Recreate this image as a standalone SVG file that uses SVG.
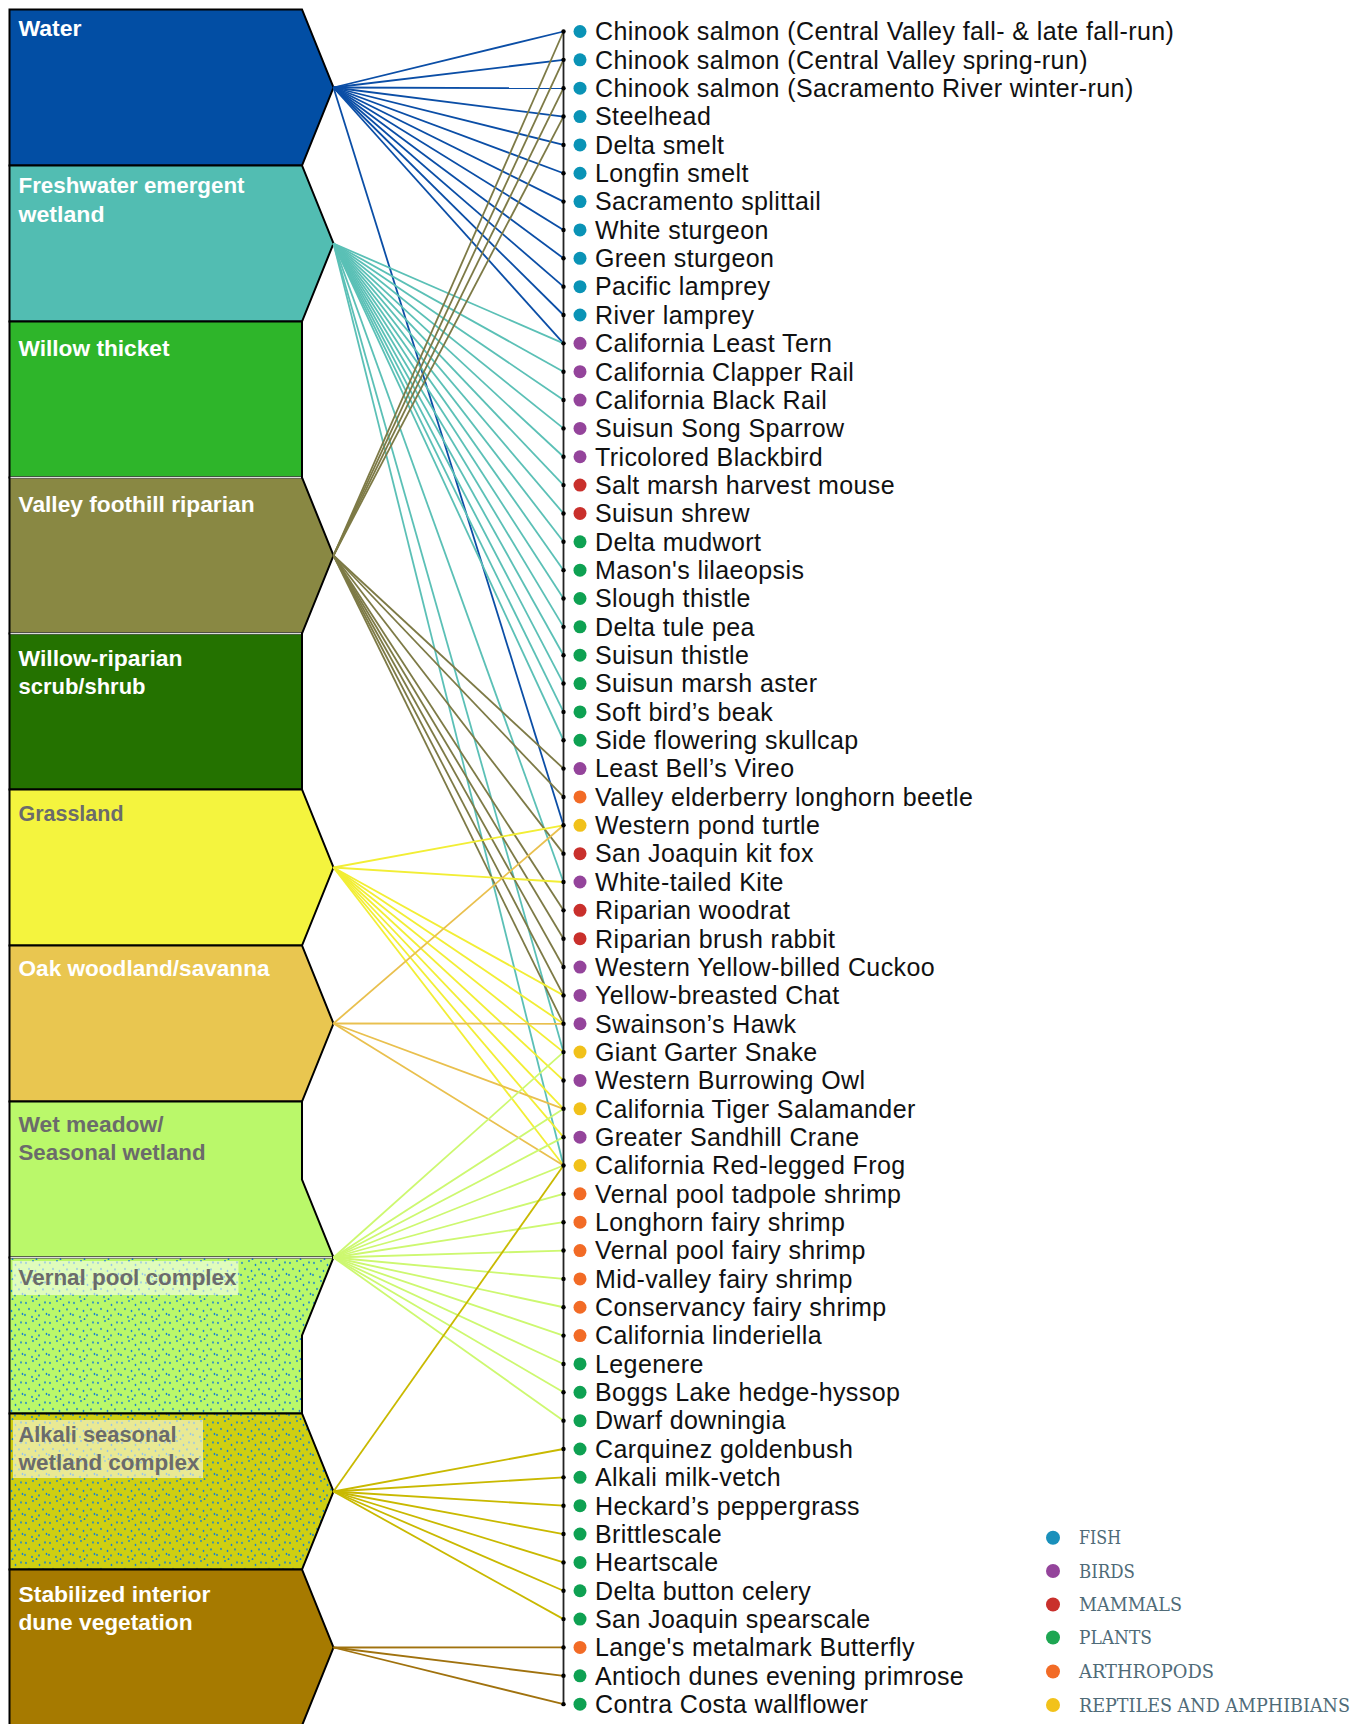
<svg xmlns="http://www.w3.org/2000/svg" width="1367" height="1724" viewBox="0 0 1367 1724">
<defs>
<style>
.hab{stroke:#000;stroke-width:2;stroke-linejoin:miter}
.lbl{font-family:"Liberation Sans",Arial,sans-serif;font-weight:bold;font-size:22.5px;fill:#fff}
.lblg{fill:#6b6b6b}
.sp{font-family:"Liberation Sans",Arial,sans-serif;font-size:25px;letter-spacing:0.4px;fill:#111}
.leg{font-family:"DejaVu Serif",serif;font-size:18px;fill:#4f6b78}
.c line{stroke-width:1.8;fill:none}
.w line{stroke:#0b4ea6}
.fw line{stroke:#5bc0b6}
.vf line{stroke:#7d7a46}
.gr line{stroke:#f2ee35}
.ok line{stroke:#e9c04e}
.wm line{stroke:#cdf870}
.ak line{stroke:#c9b900}
.sd line{stroke:#a0720e}
.fish{fill:#0a93b6}.bird{fill:#94449b}.mam{fill:#c9302c}.plant{fill:#0ea152}.arth{fill:#f26b26}.rep{fill:#f1c11a}
.tick{fill:#000}
</style>
<pattern id="speckle" width="24" height="20" patternUnits="userSpaceOnUse">
<g fill="#1b82cc">
<ellipse cx="2" cy="3" rx="0.85" ry="1.15"/><ellipse cx="9" cy="1" rx="0.85" ry="1.15"/><ellipse cx="15.5" cy="5" rx="0.85" ry="1.15"/><ellipse cx="21" cy="2.5" rx="0.85" ry="1.15"/>
<ellipse cx="5" cy="9" rx="0.85" ry="1.15"/><ellipse cx="11.5" cy="11" rx="0.85" ry="1.15"/><ellipse cx="19" cy="9.5" rx="0.85" ry="1.15"/><ellipse cx="1" cy="15" rx="0.85" ry="1.15"/>
<ellipse cx="8" cy="17" rx="0.85" ry="1.15"/><ellipse cx="15" cy="15.5" rx="0.85" ry="1.15"/><ellipse cx="22.5" cy="14" rx="0.85" ry="1.15"/><ellipse cx="12.5" cy="19.2" rx="0.85" ry="1.15"/>
</g>
</pattern>
</defs>
<rect width="1367" height="1724" fill="#fff"/>

<g id="habitats">
<g id="h-water"><path class="hab" d="M9.5,9.5 H302 L333.5,87.5 L302,165.5 H9.5 Z" fill="#024ea4"/><text class="lbl" x="18.5" y="35.7" textLength="63" lengthAdjust="spacingAndGlyphs">Water</text></g>
<g id="h-freshwater"><path class="hab" d="M9.5,165.5 H302 L333.5,243.5 L302,321.5 H9.5 Z" fill="#52bdb2"/><text class="lbl" x="18.5" y="193.3" textLength="226" lengthAdjust="spacingAndGlyphs">Freshwater emergent</text><text class="lbl" x="18.5" y="221.7" textLength="86" lengthAdjust="spacingAndGlyphs">wetland</text></g>
<g id="h-willow"><path class="hab" d="M9.5,321.5 H302 V477.5 H9.5 Z" fill="#2eb52a"/><text class="lbl" x="18.5" y="356" textLength="151" lengthAdjust="spacingAndGlyphs">Willow thicket</text></g>
<g id="h-valley"><path class="hab" d="M9.5,477.5 H302 L333.5,555.5 L302,633.5 H9.5 Z" fill="#898843"/><text class="lbl" x="18.5" y="511.7" textLength="236" lengthAdjust="spacingAndGlyphs">Valley foothill riparian</text></g>
<g id="h-willowrip"><path class="hab" d="M9.5,633.5 H302 V789.5 H9.5 Z" fill="#247200"/><text class="lbl" x="18.5" y="665.7" textLength="164" lengthAdjust="spacingAndGlyphs">Willow-riparian</text><text class="lbl" x="18.5" y="694" textLength="127" lengthAdjust="spacingAndGlyphs">scrub/shrub</text></g>
<g id="h-grass"><path class="hab" d="M9.5,789.5 H302 L333.5,867.5 L302,945.5 H9.5 Z" fill="#f4f43e"/><text class="lbl lblg" x="18.5" y="821" textLength="105" lengthAdjust="spacingAndGlyphs">Grassland</text></g>
<g id="h-oak"><path class="hab" d="M9.5,945.5 H302 L333.5,1023.5 L302,1101.5 H9.5 Z" fill="#e9c650"/><text class="lbl" x="18.5" y="975.7" textLength="251" lengthAdjust="spacingAndGlyphs">Oak woodland/savanna</text></g>
<g id="h-wetmeadow"><path class="hab" d="M9.5,1101.5 H302 V1179.5 L333.5,1257.5 H9.5 Z" fill="#baf86a"/><text class="lbl lblg" x="18.5" y="1131.7" textLength="145" lengthAdjust="spacingAndGlyphs">Wet meadow/</text><text class="lbl lblg" x="18.5" y="1160" textLength="187" lengthAdjust="spacingAndGlyphs">Seasonal wetland</text></g>
<g id="h-vernal"><path d="M9.5,1257.5 H333.5 L302,1335.5 V1413.5 H9.5 Z" fill="#baf86a"/><path d="M9.5,1257.5 H333.5 L302,1335.5 V1413.5 H9.5 Z" fill="url(#speckle)"/><path class="hab" d="M9.5,1257.5 H333.5 L302,1335.5 V1413.5 H9.5 Z" fill="none"/><rect x="12.5" y="1261" width="226" height="34" fill="#fff" fill-opacity="0.55"/><text class="lbl lblg" x="18.5" y="1285" textLength="218" lengthAdjust="spacingAndGlyphs">Vernal pool complex</text></g>
<g id="h-alkali"><path d="M9.5,1413.5 H302 L333.5,1491.5 L302,1569.5 H9.5 Z" fill="#cfcf12"/><path d="M9.5,1413.5 H302 L333.5,1491.5 L302,1569.5 H9.5 Z" fill="url(#speckle)"/><path class="hab" d="M9.5,1413.5 H302 L333.5,1491.5 L302,1569.5 H9.5 Z" fill="none"/><rect x="13" y="1420" width="190" height="58" fill="#fff" fill-opacity="0.55"/><text class="lbl lblg" x="18.5" y="1441.7" textLength="158" lengthAdjust="spacingAndGlyphs">Alkali seasonal</text><text class="lbl lblg" x="18.5" y="1470" textLength="181" lengthAdjust="spacingAndGlyphs">wetland complex</text></g>
<g id="h-dune"><path class="hab" d="M9.5,1569.5 H302 L333.5,1647.5 L302,1725.5 H9.5 Z" fill="#a67a00"/><text class="lbl" x="18.5" y="1602.3" textLength="192" lengthAdjust="spacingAndGlyphs">Stabilized interior</text><text class="lbl" x="18.5" y="1630" textLength="174" lengthAdjust="spacingAndGlyphs">dune vegetation</text></g>
<g id="separators" stroke="#dcdcdc" stroke-width="1.5"><line x1="10.5" y1="477.5" x2="301" y2="477.5"/><line x1="10.5" y1="633.5" x2="301" y2="633.5"/><line x1="10.5" y1="1257.5" x2="332" y2="1257.5"/></g>
</g>

<g id="connectors" class="c">
<g class="w">
<line x1="333.5" y1="87.5" x2="563.5" y2="31.5"/><line x1="333.5" y1="87.5" x2="563.5" y2="59.85"/><line x1="333.5" y1="87.5" x2="563.5" y2="88.2"/><line x1="333.5" y1="87.5" x2="563.5" y2="116.55"/><line x1="333.5" y1="87.5" x2="563.5" y2="144.9"/><line x1="333.5" y1="87.5" x2="563.5" y2="173.25"/><line x1="333.5" y1="87.5" x2="563.5" y2="201.6"/><line x1="333.5" y1="87.5" x2="563.5" y2="229.95"/><line x1="333.5" y1="87.5" x2="563.5" y2="258.3"/><line x1="333.5" y1="87.5" x2="563.5" y2="286.65"/><line x1="333.5" y1="87.5" x2="563.5" y2="315"/><line x1="333.5" y1="87.5" x2="563.5" y2="343.35"/><line x1="333.5" y1="87.5" x2="563.5" y2="825.3"/>
</g>
<g class="fw">
<line x1="333.5" y1="243.5" x2="563.5" y2="343.35"/><line x1="333.5" y1="243.5" x2="563.5" y2="371.7"/><line x1="333.5" y1="243.5" x2="563.5" y2="400.05"/><line x1="333.5" y1="243.5" x2="563.5" y2="428.4"/><line x1="333.5" y1="243.5" x2="563.5" y2="456.75"/><line x1="333.5" y1="243.5" x2="563.5" y2="485.1"/><line x1="333.5" y1="243.5" x2="563.5" y2="513.45"/><line x1="333.5" y1="243.5" x2="563.5" y2="541.8"/><line x1="333.5" y1="243.5" x2="563.5" y2="570.15"/><line x1="333.5" y1="243.5" x2="563.5" y2="598.5"/><line x1="333.5" y1="243.5" x2="563.5" y2="626.85"/><line x1="333.5" y1="243.5" x2="563.5" y2="655.2"/><line x1="333.5" y1="243.5" x2="563.5" y2="683.55"/><line x1="333.5" y1="243.5" x2="563.5" y2="711.9"/><line x1="333.5" y1="243.5" x2="563.5" y2="740.25"/><line x1="333.5" y1="243.5" x2="563.5" y2="882"/><line x1="333.5" y1="243.5" x2="563.5" y2="1052.1"/><line x1="333.5" y1="243.5" x2="563.5" y2="1165.5"/>
</g>
<g class="vf">
<line x1="333.5" y1="555.5" x2="563.5" y2="31.5"/><line x1="333.5" y1="555.5" x2="563.5" y2="59.85"/><line x1="333.5" y1="555.5" x2="563.5" y2="88.2"/><line x1="333.5" y1="555.5" x2="563.5" y2="116.55"/><line x1="333.5" y1="555.5" x2="563.5" y2="768.6"/><line x1="333.5" y1="555.5" x2="563.5" y2="796.95"/><line x1="333.5" y1="555.5" x2="563.5" y2="853.65"/><line x1="333.5" y1="555.5" x2="563.5" y2="910.35"/><line x1="333.5" y1="555.5" x2="563.5" y2="938.7"/><line x1="333.5" y1="555.5" x2="563.5" y2="967.05"/><line x1="333.5" y1="555.5" x2="563.5" y2="995.4"/><line x1="333.5" y1="555.5" x2="563.5" y2="1023.75"/>
</g>
<g class="gr">
<line x1="333.5" y1="867.5" x2="563.5" y2="825.3"/><line x1="333.5" y1="867.5" x2="563.5" y2="882"/><line x1="333.5" y1="867.5" x2="563.5" y2="995.4"/><line x1="333.5" y1="867.5" x2="563.5" y2="1023.75"/><line x1="333.5" y1="867.5" x2="563.5" y2="1052.1"/><line x1="333.5" y1="867.5" x2="563.5" y2="1080.45"/><line x1="333.5" y1="867.5" x2="563.5" y2="1108.8"/><line x1="333.5" y1="867.5" x2="563.5" y2="1137.15"/><line x1="333.5" y1="867.5" x2="563.5" y2="1165.5"/>
</g>
<g class="ok">
<line x1="333.5" y1="1023.5" x2="563.5" y2="825.3"/><line x1="333.5" y1="1023.5" x2="563.5" y2="1023.75"/><line x1="333.5" y1="1023.5" x2="563.5" y2="1108.8"/><line x1="333.5" y1="1023.5" x2="563.5" y2="1165.5"/>
</g>
<g class="wm">
<line x1="333.5" y1="1257.5" x2="563.5" y2="1052.1"/><line x1="333.5" y1="1257.5" x2="563.5" y2="1108.8"/><line x1="333.5" y1="1257.5" x2="563.5" y2="1137.15"/><line x1="333.5" y1="1257.5" x2="563.5" y2="1165.5"/><line x1="333.5" y1="1257.5" x2="563.5" y2="1193.85"/><line x1="333.5" y1="1257.5" x2="563.5" y2="1222.2"/><line x1="333.5" y1="1257.5" x2="563.5" y2="1250.55"/><line x1="333.5" y1="1257.5" x2="563.5" y2="1278.9"/><line x1="333.5" y1="1257.5" x2="563.5" y2="1307.25"/><line x1="333.5" y1="1257.5" x2="563.5" y2="1335.6"/><line x1="333.5" y1="1257.5" x2="563.5" y2="1363.95"/><line x1="333.5" y1="1257.5" x2="563.5" y2="1392.3"/><line x1="333.5" y1="1257.5" x2="563.5" y2="1420.65"/>
</g>
<g class="ak">
<line x1="333.5" y1="1491.5" x2="563.5" y2="1165.5"/><line x1="333.5" y1="1491.5" x2="563.5" y2="1449"/><line x1="333.5" y1="1491.5" x2="563.5" y2="1477.35"/><line x1="333.5" y1="1491.5" x2="563.5" y2="1505.7"/><line x1="333.5" y1="1491.5" x2="563.5" y2="1534.05"/><line x1="333.5" y1="1491.5" x2="563.5" y2="1562.4"/><line x1="333.5" y1="1491.5" x2="563.5" y2="1590.75"/><line x1="333.5" y1="1491.5" x2="563.5" y2="1619.1"/>
</g>
<g class="sd">
<line x1="333.5" y1="1647.5" x2="563.5" y2="1647.45"/><line x1="333.5" y1="1647.5" x2="563.5" y2="1675.8"/><line x1="333.5" y1="1647.5" x2="563.5" y2="1704.15"/>
</g>
<line x1="563.5" y1="31.5" x2="563.5" y2="1704.15" stroke="#222" stroke-width="1.8"/>
</g>

<g id="species">
<g id="s0"><circle class="tick" cx="563.5" cy="31.5" r="2.2"/><circle class="fish" cx="580" cy="31.5" r="6.5"/><text class="sp" x="595" y="40.3">Chinook salmon (Central Valley fall- &amp; late fall-run)</text></g>
<g id="s1"><circle class="tick" cx="563.5" cy="59.85" r="2.2"/><circle class="fish" cx="580" cy="59.85" r="6.5"/><text class="sp" x="595" y="68.65">Chinook salmon (Central Valley spring-run)</text></g>
<g id="s2"><circle class="tick" cx="563.5" cy="88.2" r="2.2"/><circle class="fish" cx="580" cy="88.2" r="6.5"/><text class="sp" x="595" y="97">Chinook salmon (Sacramento River winter-run)</text></g>
<g id="s3"><circle class="tick" cx="563.5" cy="116.55" r="2.2"/><circle class="fish" cx="580" cy="116.55" r="6.5"/><text class="sp" x="595" y="125.35">Steelhead</text></g>
<g id="s4"><circle class="tick" cx="563.5" cy="144.9" r="2.2"/><circle class="fish" cx="580" cy="144.9" r="6.5"/><text class="sp" x="595" y="153.7">Delta smelt</text></g>
<g id="s5"><circle class="tick" cx="563.5" cy="173.25" r="2.2"/><circle class="fish" cx="580" cy="173.25" r="6.5"/><text class="sp" x="595" y="182.05">Longfin smelt</text></g>
<g id="s6"><circle class="tick" cx="563.5" cy="201.6" r="2.2"/><circle class="fish" cx="580" cy="201.6" r="6.5"/><text class="sp" x="595" y="210.4">Sacramento splittail</text></g>
<g id="s7"><circle class="tick" cx="563.5" cy="229.95" r="2.2"/><circle class="fish" cx="580" cy="229.95" r="6.5"/><text class="sp" x="595" y="238.75">White sturgeon</text></g>
<g id="s8"><circle class="tick" cx="563.5" cy="258.3" r="2.2"/><circle class="fish" cx="580" cy="258.3" r="6.5"/><text class="sp" x="595" y="267.1">Green sturgeon</text></g>
<g id="s9"><circle class="tick" cx="563.5" cy="286.65" r="2.2"/><circle class="fish" cx="580" cy="286.65" r="6.5"/><text class="sp" x="595" y="295.45">Pacific lamprey</text></g>
<g id="s10"><circle class="tick" cx="563.5" cy="315" r="2.2"/><circle class="fish" cx="580" cy="315" r="6.5"/><text class="sp" x="595" y="323.8">River lamprey</text></g>
<g id="s11"><circle class="tick" cx="563.5" cy="343.35" r="2.2"/><circle class="bird" cx="580" cy="343.35" r="6.5"/><text class="sp" x="595" y="352.15">California Least Tern</text></g>
<g id="s12"><circle class="tick" cx="563.5" cy="371.7" r="2.2"/><circle class="bird" cx="580" cy="371.7" r="6.5"/><text class="sp" x="595" y="380.5">California Clapper Rail</text></g>
<g id="s13"><circle class="tick" cx="563.5" cy="400.05" r="2.2"/><circle class="bird" cx="580" cy="400.05" r="6.5"/><text class="sp" x="595" y="408.85">California Black Rail</text></g>
<g id="s14"><circle class="tick" cx="563.5" cy="428.4" r="2.2"/><circle class="bird" cx="580" cy="428.4" r="6.5"/><text class="sp" x="595" y="437.2">Suisun Song Sparrow</text></g>
<g id="s15"><circle class="tick" cx="563.5" cy="456.75" r="2.2"/><circle class="bird" cx="580" cy="456.75" r="6.5"/><text class="sp" x="595" y="465.55">Tricolored Blackbird</text></g>
<g id="s16"><circle class="tick" cx="563.5" cy="485.1" r="2.2"/><circle class="mam" cx="580" cy="485.1" r="6.5"/><text class="sp" x="595" y="493.9">Salt marsh harvest mouse</text></g>
<g id="s17"><circle class="tick" cx="563.5" cy="513.45" r="2.2"/><circle class="mam" cx="580" cy="513.45" r="6.5"/><text class="sp" x="595" y="522.25">Suisun shrew</text></g>
<g id="s18"><circle class="tick" cx="563.5" cy="541.8" r="2.2"/><circle class="plant" cx="580" cy="541.8" r="6.5"/><text class="sp" x="595" y="550.6">Delta mudwort</text></g>
<g id="s19"><circle class="tick" cx="563.5" cy="570.15" r="2.2"/><circle class="plant" cx="580" cy="570.15" r="6.5"/><text class="sp" x="595" y="578.95">Mason's lilaeopsis</text></g>
<g id="s20"><circle class="tick" cx="563.5" cy="598.5" r="2.2"/><circle class="plant" cx="580" cy="598.5" r="6.5"/><text class="sp" x="595" y="607.3">Slough thistle</text></g>
<g id="s21"><circle class="tick" cx="563.5" cy="626.85" r="2.2"/><circle class="plant" cx="580" cy="626.85" r="6.5"/><text class="sp" x="595" y="635.65">Delta tule pea</text></g>
<g id="s22"><circle class="tick" cx="563.5" cy="655.2" r="2.2"/><circle class="plant" cx="580" cy="655.2" r="6.5"/><text class="sp" x="595" y="664">Suisun thistle</text></g>
<g id="s23"><circle class="tick" cx="563.5" cy="683.55" r="2.2"/><circle class="plant" cx="580" cy="683.55" r="6.5"/><text class="sp" x="595" y="692.35">Suisun marsh aster</text></g>
<g id="s24"><circle class="tick" cx="563.5" cy="711.9" r="2.2"/><circle class="plant" cx="580" cy="711.9" r="6.5"/><text class="sp" x="595" y="720.7">Soft bird’s beak</text></g>
<g id="s25"><circle class="tick" cx="563.5" cy="740.25" r="2.2"/><circle class="plant" cx="580" cy="740.25" r="6.5"/><text class="sp" x="595" y="749.05">Side flowering skullcap</text></g>
<g id="s26"><circle class="tick" cx="563.5" cy="768.6" r="2.2"/><circle class="bird" cx="580" cy="768.6" r="6.5"/><text class="sp" x="595" y="777.4">Least Bell’s Vireo</text></g>
<g id="s27"><circle class="tick" cx="563.5" cy="796.95" r="2.2"/><circle class="arth" cx="580" cy="796.95" r="6.5"/><text class="sp" x="595" y="805.75">Valley elderberry longhorn beetle</text></g>
<g id="s28"><circle class="tick" cx="563.5" cy="825.3" r="2.2"/><circle class="rep" cx="580" cy="825.3" r="6.5"/><text class="sp" x="595" y="834.1">Western pond turtle</text></g>
<g id="s29"><circle class="tick" cx="563.5" cy="853.65" r="2.2"/><circle class="mam" cx="580" cy="853.65" r="6.5"/><text class="sp" x="595" y="862.45">San Joaquin kit fox</text></g>
<g id="s30"><circle class="tick" cx="563.5" cy="882" r="2.2"/><circle class="bird" cx="580" cy="882" r="6.5"/><text class="sp" x="595" y="890.8">White-tailed Kite</text></g>
<g id="s31"><circle class="tick" cx="563.5" cy="910.35" r="2.2"/><circle class="mam" cx="580" cy="910.35" r="6.5"/><text class="sp" x="595" y="919.15">Riparian woodrat</text></g>
<g id="s32"><circle class="tick" cx="563.5" cy="938.7" r="2.2"/><circle class="mam" cx="580" cy="938.7" r="6.5"/><text class="sp" x="595" y="947.5">Riparian brush rabbit</text></g>
<g id="s33"><circle class="tick" cx="563.5" cy="967.05" r="2.2"/><circle class="bird" cx="580" cy="967.05" r="6.5"/><text class="sp" x="595" y="975.85">Western Yellow-billed Cuckoo</text></g>
<g id="s34"><circle class="tick" cx="563.5" cy="995.4" r="2.2"/><circle class="bird" cx="580" cy="995.4" r="6.5"/><text class="sp" x="595" y="1004.2">Yellow-breasted Chat</text></g>
<g id="s35"><circle class="tick" cx="563.5" cy="1023.75" r="2.2"/><circle class="bird" cx="580" cy="1023.75" r="6.5"/><text class="sp" x="595" y="1032.55">Swainson’s Hawk</text></g>
<g id="s36"><circle class="tick" cx="563.5" cy="1052.1" r="2.2"/><circle class="rep" cx="580" cy="1052.1" r="6.5"/><text class="sp" x="595" y="1060.9">Giant Garter Snake</text></g>
<g id="s37"><circle class="tick" cx="563.5" cy="1080.45" r="2.2"/><circle class="bird" cx="580" cy="1080.45" r="6.5"/><text class="sp" x="595" y="1089.25">Western Burrowing Owl</text></g>
<g id="s38"><circle class="tick" cx="563.5" cy="1108.8" r="2.2"/><circle class="rep" cx="580" cy="1108.8" r="6.5"/><text class="sp" x="595" y="1117.6">California Tiger Salamander</text></g>
<g id="s39"><circle class="tick" cx="563.5" cy="1137.15" r="2.2"/><circle class="bird" cx="580" cy="1137.15" r="6.5"/><text class="sp" x="595" y="1145.95">Greater Sandhill Crane</text></g>
<g id="s40"><circle class="tick" cx="563.5" cy="1165.5" r="2.2"/><circle class="rep" cx="580" cy="1165.5" r="6.5"/><text class="sp" x="595" y="1174.3">California Red-legged Frog</text></g>
<g id="s41"><circle class="tick" cx="563.5" cy="1193.85" r="2.2"/><circle class="arth" cx="580" cy="1193.85" r="6.5"/><text class="sp" x="595" y="1202.65">Vernal pool tadpole shrimp</text></g>
<g id="s42"><circle class="tick" cx="563.5" cy="1222.2" r="2.2"/><circle class="arth" cx="580" cy="1222.2" r="6.5"/><text class="sp" x="595" y="1231">Longhorn fairy shrimp</text></g>
<g id="s43"><circle class="tick" cx="563.5" cy="1250.55" r="2.2"/><circle class="arth" cx="580" cy="1250.55" r="6.5"/><text class="sp" x="595" y="1259.35">Vernal pool fairy shrimp</text></g>
<g id="s44"><circle class="tick" cx="563.5" cy="1278.9" r="2.2"/><circle class="arth" cx="580" cy="1278.9" r="6.5"/><text class="sp" x="595" y="1287.7">Mid-valley fairy shrimp</text></g>
<g id="s45"><circle class="tick" cx="563.5" cy="1307.25" r="2.2"/><circle class="arth" cx="580" cy="1307.25" r="6.5"/><text class="sp" x="595" y="1316.05">Conservancy fairy shrimp</text></g>
<g id="s46"><circle class="tick" cx="563.5" cy="1335.6" r="2.2"/><circle class="arth" cx="580" cy="1335.6" r="6.5"/><text class="sp" x="595" y="1344.4">California linderiella</text></g>
<g id="s47"><circle class="tick" cx="563.5" cy="1363.95" r="2.2"/><circle class="plant" cx="580" cy="1363.95" r="6.5"/><text class="sp" x="595" y="1372.75">Legenere</text></g>
<g id="s48"><circle class="tick" cx="563.5" cy="1392.3" r="2.2"/><circle class="plant" cx="580" cy="1392.3" r="6.5"/><text class="sp" x="595" y="1401.1">Boggs Lake hedge-hyssop</text></g>
<g id="s49"><circle class="tick" cx="563.5" cy="1420.65" r="2.2"/><circle class="plant" cx="580" cy="1420.65" r="6.5"/><text class="sp" x="595" y="1429.45">Dwarf downingia</text></g>
<g id="s50"><circle class="tick" cx="563.5" cy="1449" r="2.2"/><circle class="plant" cx="580" cy="1449" r="6.5"/><text class="sp" x="595" y="1457.8">Carquinez goldenbush</text></g>
<g id="s51"><circle class="tick" cx="563.5" cy="1477.35" r="2.2"/><circle class="plant" cx="580" cy="1477.35" r="6.5"/><text class="sp" x="595" y="1486.15">Alkali milk-vetch</text></g>
<g id="s52"><circle class="tick" cx="563.5" cy="1505.7" r="2.2"/><circle class="plant" cx="580" cy="1505.7" r="6.5"/><text class="sp" x="595" y="1514.5">Heckard’s peppergrass</text></g>
<g id="s53"><circle class="tick" cx="563.5" cy="1534.05" r="2.2"/><circle class="plant" cx="580" cy="1534.05" r="6.5"/><text class="sp" x="595" y="1542.85">Brittlescale</text></g>
<g id="s54"><circle class="tick" cx="563.5" cy="1562.4" r="2.2"/><circle class="plant" cx="580" cy="1562.4" r="6.5"/><text class="sp" x="595" y="1571.2">Heartscale</text></g>
<g id="s55"><circle class="tick" cx="563.5" cy="1590.75" r="2.2"/><circle class="plant" cx="580" cy="1590.75" r="6.5"/><text class="sp" x="595" y="1599.55">Delta button celery</text></g>
<g id="s56"><circle class="tick" cx="563.5" cy="1619.1" r="2.2"/><circle class="plant" cx="580" cy="1619.1" r="6.5"/><text class="sp" x="595" y="1627.9">San Joaquin spearscale</text></g>
<g id="s57"><circle class="tick" cx="563.5" cy="1647.45" r="2.2"/><circle class="arth" cx="580" cy="1647.45" r="6.5"/><text class="sp" x="595" y="1656.25">Lange's metalmark Butterfly</text></g>
<g id="s58"><circle class="tick" cx="563.5" cy="1675.8" r="2.2"/><circle class="plant" cx="580" cy="1675.8" r="6.5"/><text class="sp" x="595" y="1684.6">Antioch dunes evening primrose</text></g>
<g id="s59"><circle class="tick" cx="563.5" cy="1704.15" r="2.2"/><circle class="plant" cx="580" cy="1704.15" r="6.5"/><text class="sp" x="595" y="1712.95">Contra Costa wallflower</text></g>
</g>

<g id="legend">
<g id="lg-fish"><circle cx="1053" cy="1537.7" r="7" fill="#1a90bb"/><text class="leg" x="1079" y="1544.3" textLength="42" lengthAdjust="spacingAndGlyphs">FISH</text></g>
<g id="lg-birds"><circle cx="1053" cy="1571" r="7" fill="#94449b"/><text class="leg" x="1079" y="1577.6" textLength="56" lengthAdjust="spacingAndGlyphs">BIRDS</text></g>
<g id="lg-mammals"><circle cx="1053" cy="1604.5" r="7" fill="#c9302c"/><text class="leg" x="1079" y="1611.1" textLength="103" lengthAdjust="spacingAndGlyphs">MAMMALS</text></g>
<g id="lg-plants"><circle cx="1053" cy="1637.5" r="7" fill="#1ea652"/><text class="leg" x="1079" y="1644.1" textLength="73" lengthAdjust="spacingAndGlyphs">PLANTS</text></g>
<g id="lg-arth"><circle cx="1053" cy="1671.5" r="7" fill="#f26b26"/><text class="leg" x="1079" y="1678.1" textLength="135" lengthAdjust="spacingAndGlyphs">ARTHROPODS</text></g>
<g id="lg-rep"><circle cx="1053" cy="1705" r="7" fill="#f2c21a"/><text class="leg" x="1079" y="1711.6" textLength="271" lengthAdjust="spacingAndGlyphs">REPTILES AND AMPHIBIANS</text></g>
</g>
</svg>
